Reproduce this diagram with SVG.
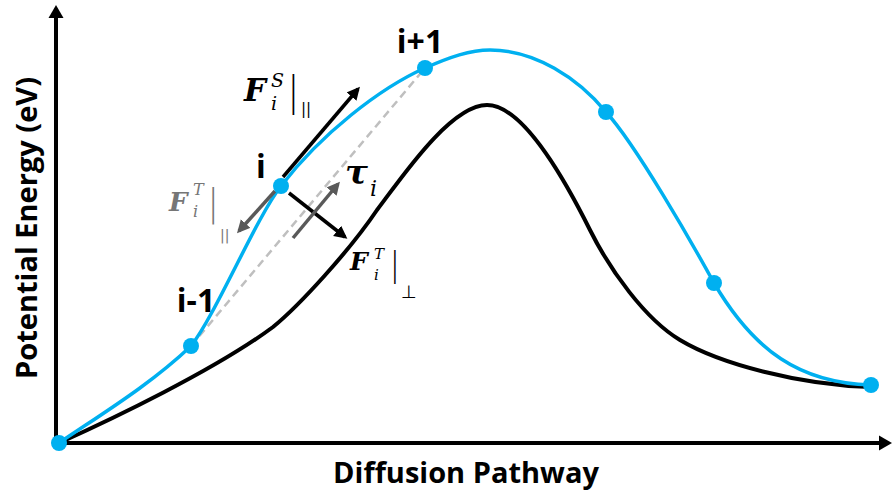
<svg xmlns="http://www.w3.org/2000/svg" width="892" height="492" viewBox="0 0 892 492">
<style>
.axis{stroke:#000;stroke-width:4;fill:none}
.blue{stroke:#00B0F0;stroke-width:3.5;fill:none}
.black{stroke:#000;stroke-width:4;fill:none}
.dot{fill:#00B0F0}
.lbl{font-family:"Open Sans","Liberation Sans",sans-serif;font-weight:700;fill:#000}
.m{font-family:"DejaVu Serif","Liberation Serif",serif;font-style:italic;font-weight:700}
.mi{font-family:"DejaVu Serif","Liberation Serif",serif;font-style:italic;font-weight:400}
.bar{font-family:"DejaVu Sans",sans-serif;font-weight:400}
.arrK{stroke:#000;stroke-width:3.5;fill:none}
.arrG{stroke:#595959;stroke-width:3.5;fill:none}
</style>
<defs>
<marker id="ahK" markerUnits="userSpaceOnUse" markerWidth="14" markerHeight="14" refX="10" refY="6.5" orient="auto"><path d="M0,0 L13,6.5 L0,13 z" fill="#000"/></marker>
<marker id="ahG" markerUnits="userSpaceOnUse" markerWidth="14" markerHeight="14" refX="10" refY="6.5" orient="auto"><path d="M0,0 L13,6.5 L0,13 z" fill="#595959"/></marker>
</defs>
<rect width="892" height="492" fill="#fff"/>

<g id="axes">
<line class="axis" x1="56" y1="443" x2="56" y2="16"/>
<polygon points="56,5 48.5,18 63.5,18" fill="#000"/>
<line class="axis" x1="54" y1="443" x2="880" y2="443"/>
<polygon points="892,443 879,435.5 879,450.5" fill="#000"/>
<text class="lbl" font-size="29" x="466" y="483" text-anchor="middle">Diffusion Pathway</text>
<text class="lbl" font-size="29" text-anchor="middle" transform="translate(37,228) rotate(-90)">Potential Energy (eV)</text>
</g>

<g id="curves">
<path id="mep" class="black" d="M59,443 C110,420 215,370 273,327 C300,305 350,250 377,210 C400,180 450,105 487,105 C525,105 570,190 590,230 C610,270 645,319 680,340 C720,364 800,385 871,387"/>
<line x1="191" y1="346" x2="425" y2="68" stroke="#BFBFBF" stroke-width="2.5" stroke-dasharray="8,5"/>
<path id="neb" class="blue" d="M59,443 C100,415 150,385 191,346 C216,314 256,218 281,186 C321,134 380,88 425,68 C450,57 470,50 490,50 C535,50 578,78 606,112 C636,145 692,243 714,283 C754,351 800,383 871,385"/>
</g>

<g id="connectors">
<line class="arrK" x1="283" y1="177" x2="358" y2="89" marker-end="url(#ahK)"/>
<line class="arrK" x1="289" y1="193" x2="345" y2="237" marker-end="url(#ahK)"/>
<line class="arrG" x1="275" y1="191" x2="239" y2="231" marker-end="url(#ahG)"/>
<line class="arrG" x1="293" y1="238" x2="338" y2="184" marker-end="url(#ahG)"/>
</g>

<g id="node-0"><circle class="dot" cx="59" cy="443" r="8"/></g>
<g id="node-im1"><circle class="dot" cx="191" cy="346" r="8"/><text class="lbl" font-size="32" x="196" y="312" text-anchor="middle">i-1</text></g>
<g id="node-i"><circle class="dot" cx="281" cy="186" r="8"/><text class="lbl" font-size="32" x="261" y="178" text-anchor="middle">i</text></g>
<g id="node-ip1"><circle class="dot" cx="425" cy="68" r="8"/><text class="lbl" font-size="32" x="420" y="53" text-anchor="middle">i+1</text></g>
<g id="node-4"><circle class="dot" cx="606" cy="112" r="8"/></g>
<g id="node-5"><circle class="dot" cx="714" cy="283" r="8"/></g>
<g id="node-6"><circle class="dot" cx="871" cy="385" r="8"/></g>

<g id="label-FS" fill="#000">
<text class="m" font-size="31" x="244" y="101">F</text>
<text class="mi" font-size="19" x="271" y="87">S</text>
<text class="mi" font-size="19" x="271" y="110">i</text>
<text class="bar" font-size="20" transform="translate(290,105) scale(1,2)">|</text>
<text class="bar" font-size="15" x="301" y="114">||</text>
</g>

<g id="label-FTpar" fill="#767676">
<text class="m" font-size="26" x="169" y="211">F</text>
<text class="mi" font-size="16" x="193" y="195">T</text>
<text class="mi" font-size="16" x="193" y="217">i</text>
<text class="bar" font-size="19" transform="translate(210,215) scale(1,2)">|</text>
<text class="bar" font-size="14" x="220" y="240">||</text>
</g>

<g id="label-tau" fill="#000">
<text class="m" font-size="34" x="345" y="184">τ</text>
<text class="mi" font-size="22" x="370" y="196">i</text>
</g>

<g id="label-FTperp" fill="#000">
<text class="m" font-size="25" x="350" y="270">F</text>
<text class="mi" font-size="15" x="374" y="259">T</text>
<text class="mi" font-size="15" x="374" y="280">i</text>
<text class="bar" font-size="17" transform="translate(392,276) scale(1,2)">|</text>
<text class="bar" font-size="18" x="401" y="298">⊥</text>
</g>
</svg>
